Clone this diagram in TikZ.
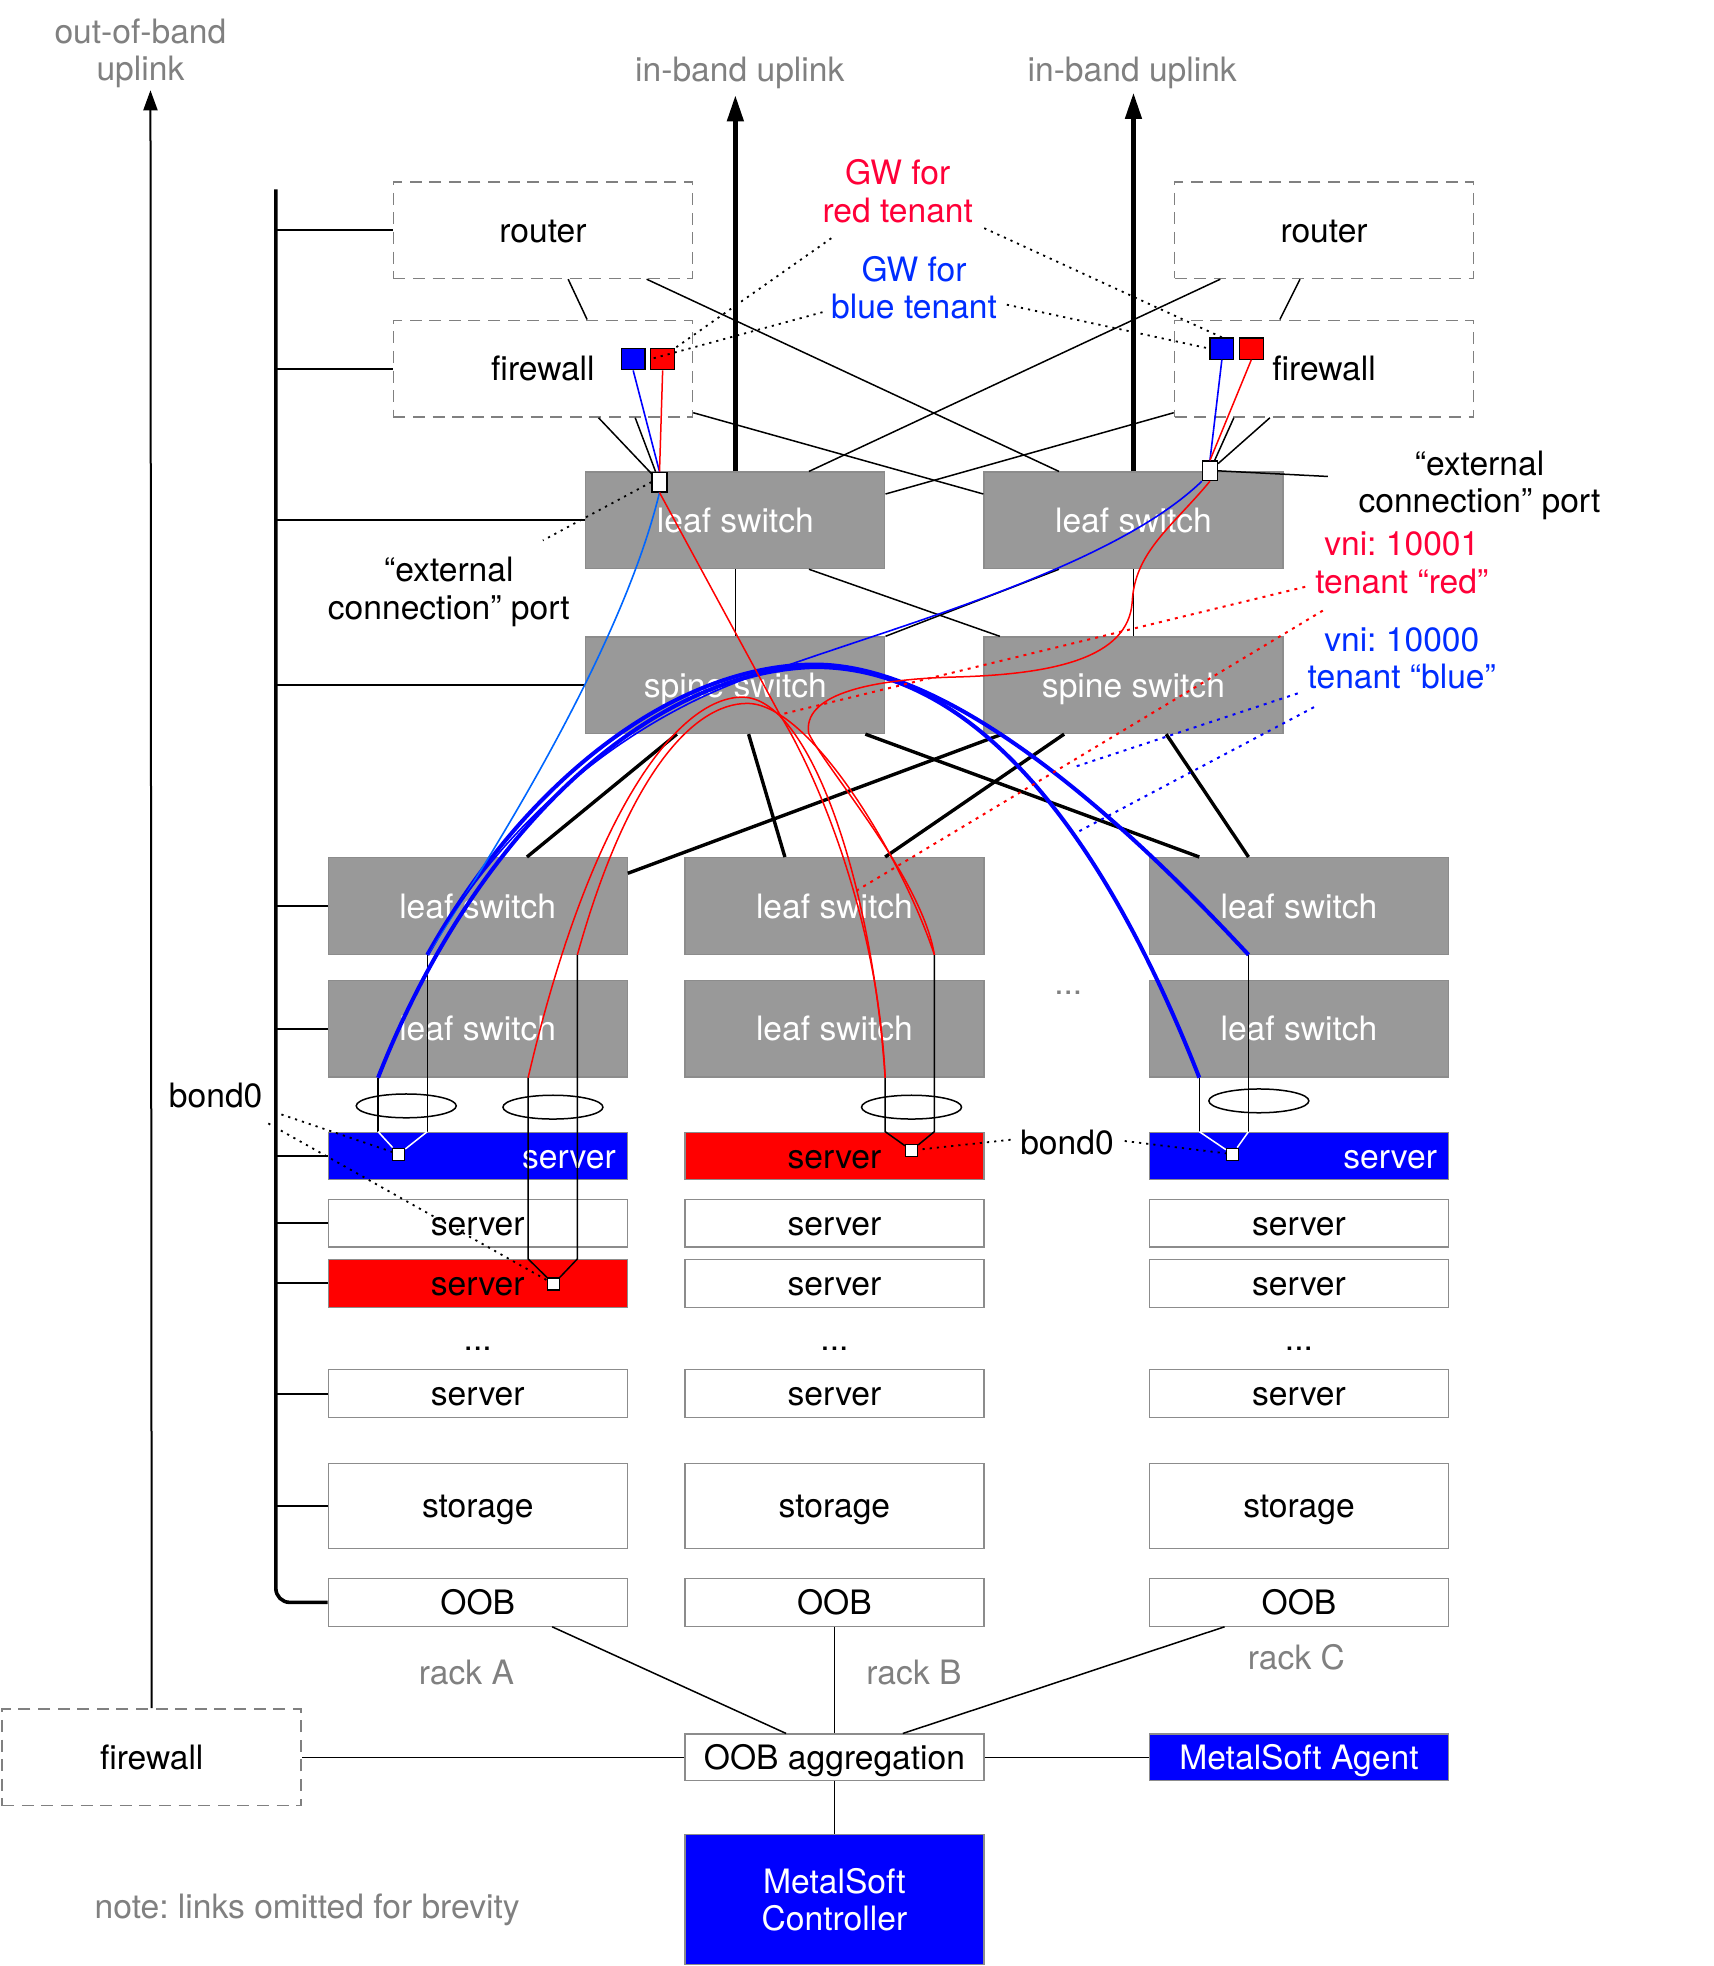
\documentclass[tikz,border=0pt]{standalone}
\usepackage{fontspec}
\setmainfont{TeX Gyre Heros}
\usepackage{tikz}
\usetikzlibrary{positioning, calc, arrows.meta, shapes.geometric}
\frenchspacing
\definecolor{switchgray}{RGB}{153,153,153}
\definecolor{edgegray}{RGB}{140,140,140}
\definecolor{notegray}{RGB}{128,128,128}
\definecolor{tenantred}{RGB}{255,0,56}
\definecolor{tenantblue}{RGB}{0,45,255}
\definecolor{fillred}{RGB}{255,0,0}
\definecolor{fillblue}{RGB}{0,0,255}
\definecolor{extblue}{RGB}{0,102,255}
\tikzset{% use tikzset not tikzstyle
	lbl/.style={font=\fontsize{16.8}{18.8}\selectfont, align=center, inner sep=0pt},
	graylbl/.style={lbl, text=notegray},
	redlbl/.style={lbl, text=tenantred},
	bluelbl/.style={lbl, text=tenantblue},
	plainbox/.style={lbl, draw=edgegray, line width=0.6pt, minimum width=149.5pt, minimum height=23.8pt,
		text height=16.1pt, text depth=4pt},
	whitebox/.style={plainbox, fill=white},
	redbox/.style={plainbox, fill=fillred},
	bluebox/.style={plainbox, fill=fillblue, text=white},
	switchbox/.style={plainbox, fill=switchgray, text=white, minimum height=48.3pt},
	dashbox/.style={plainbox, draw=gray, dash pattern=on 6pt off 3.8pt, line width=0.8pt, minimum height=48.3pt},
	storebox/.style={whitebox, minimum height=42.6pt},
	gwsq/.style={draw=black, line width=0.6pt, minimum width=11.9pt, minimum height=10.6pt, inner sep=0pt},
	extport/.style={draw=black, fill=white, line width=0.6pt, minimum width=7.5pt, minimum height=9.8pt, inner sep=0pt},
	bondport/.style={draw=black, fill=white, line width=0.6pt, minimum size=6pt, inner sep=0pt},
	bondring/.style={ellipse, draw=black, line width=0.75pt, minimum width=50pt, minimum height=11.9pt, inner sep=0pt},
	thinlink/.style={line width=0.75pt},
	busbranch/.style={line width=1.1pt},
	busline/.style={line width=1.8pt},
	spineline/.style={line width=1.7pt},
	bigarrow/.style={-{Triangle[length=13pt,width=8pt]}, line width=2.2pt},
	oobarrow/.style={-{Triangle[length=10pt,width=7pt]}, line width=1pt},
	bluethick/.style={fillblue, line width=2pt},
	bluethin/.style={fillblue, line width=0.8pt},
	extline/.style={extblue, line width=0.8pt},
	redthin/.style={fillred, line width=0.75pt},
	ptrline/.style={dash pattern=on 1.1pt off 2.5pt, line width=0.9pt},
	redptr/.style={fillred, dash pattern=on 1.5pt off 2.6pt, line width=1pt},
	blueptr/.style={fillblue, dash pattern=on 1.5pt off 2.6pt, line width=1pt},
}
\begin{document}
\begin{tikzpicture}[x=0.6269pt, y=-0.6269pt]
	\useasboundingbox (0,0) rectangle (1367,1568);

	% gateways and core
	\node[dashbox] (rtrL) at (433,183.5) {router};
	\node[dashbox] (fwL) at (433,294) {firewall};
	\node[dashbox] (rtrR) at (1056,183.5) {router};
	\node[dashbox] (fwR) at (1056,294) {firewall};
	\node[switchbox] (lfL) at (586.5,415) {leaf switch};
	\node[switchbox] (lfR) at (904,415) {leaf switch};
	\node[switchbox] (spL) at (586.5,546.5) {spine switch};
	\node[switchbox] (spR) at (904,546.5) {spine switch};

	% rack A
	\node[switchbox] (lfA1) at (381,722.5) {leaf switch};
	\node[switchbox] (lfA2) at (381,820.5) {leaf switch};
	\node[bluebox, text width=138pt, align=right] (srvA1) at (381,922) {server};
	\node[whitebox] (srvA2) at (381,975.5) {server};
	\node[redbox] (srvA3) at (381,1023.5) {server};
	\node[lbl] (dotsA) at (381,1076) {...};
	\node[whitebox] (srvA4) at (381,1111.5) {server};
	\node[storebox] (stoA) at (381,1201) {storage};
	\node[whitebox] (oobA) at (381,1278) {OOB};
	\node[graylbl] (rackA) at (372,1334) {rack A};

	% rack B
	\node[switchbox] (lfB1) at (665.5,722.5) {leaf switch};
	\node[switchbox] (lfB2) at (665.5,820.5) {leaf switch};
	\node[redbox] (srvB1) at (665.5,922) {server};
	\node[whitebox] (srvB2) at (665.5,975.5) {server};
	\node[whitebox] (srvB3) at (665.5,1023.5) {server};
	\node[lbl] (dotsB) at (665.5,1076) {...};
	\node[whitebox] (srvB4) at (665.5,1111.5) {server};
	\node[storebox] (stoB) at (665.5,1201) {storage};
	\node[whitebox] (oobB) at (665.5,1278) {OOB};
	\node[graylbl] (rackB) at (729,1334) {rack B};

	% rack C
	\node[switchbox] (lfC1) at (1036,722.5) {leaf switch};
	\node[switchbox] (lfC2) at (1036,820.5) {leaf switch};
	\node[bluebox, text width=138pt, align=right] (srvC1) at (1036,922) {server};
	\node[whitebox] (srvC2) at (1036,975.5) {server};
	\node[whitebox] (srvC3) at (1036,1023.5) {server};
	\node[lbl] (dotsC) at (1036,1076) {...};
	\node[whitebox] (srvC4) at (1036,1111.5) {server};
	\node[storebox] (stoC) at (1036,1201) {storage};
	\node[whitebox] (oobC) at (1036,1278) {OOB};
	\node[graylbl] (rackC) at (1034,1322) {rack C};
	\node[graylbl] (dotsM) at (852,792) {...};

	% out-of-band part
	\node[dashbox] (fwB) at (121,1401.5) {firewall};
	\node[whitebox, minimum height=23.2pt] (oobAgg) at (665.5,1401.5) {OOB aggregation};
	\node[bluebox, minimum height=23.2pt] (agent) at (1036,1401.5) {MetalSoft Agent};
	\node[bluebox, minimum height=65.2pt, text height={}, text depth={}] (ctrl) at (665.5,1515) {MetalSoft\\Controller};
	\node[graylbl] (note) at (245,1523) {note: links omitted for brevity};

	% labels
	\node[graylbl] (oobup) at (112,42.5) {out-of-band\\uplink};
	\node[graylbl] (ibupL) at (590,58.5) {in-band uplink};
	\node[graylbl] (ibupR) at (903,58.5) {in-band uplink};
	\node[redlbl] (gwred) at (716,152.5) {GW for\\red tenant};
	\node[bluelbl] (gwblue) at (729,229.5) {GW for\\blue tenant};
	\node[lbl] (extLtxt) at (358,472) {“external\\connection” port};
	\node[lbl] (extRtxt) at (1180,387) {“external\\connection” port};
	\node[redlbl] (vnired) at (1118,449) {vni: 10001\\tenant “red”};
	\node[bluelbl] (vniblue) at (1118,525) {vni: 10000\\tenant “blue”};
	\node[lbl] (bondL) at (172,874) {bond0};
	\node[lbl] (bondM) at (851,911) {bond0};

	% ports
	\node[gwsq, fill=fillblue] (gwbL) at (505,286.5) {};
	\node[gwsq, fill=fillred] (gwrL) at (528.5,286.5) {};
	\node[gwsq, fill=fillblue] (gwbR) at (974.5,278) {};
	\node[gwsq, fill=fillred] (gwrR) at (998,278) {};
	\node[extport] (ptL) at (526,384.5) {};
	\node[extport] (ptR) at (965,375.5) {};
	\node[bondport] (bpA1) at (318,920.5) {};
	\node[bondport] (bpA3) at (441.5,1024) {};
	\node[bondport] (bpB) at (727,917.5) {};
	\node[bondport] (bpC) at (983,920.5) {};

	\coordinate (bustop) at (220,151);
	\coordinate (oobtip) at (120,72);
	\coordinate (ibtipL) at (586.5,76);
	\coordinate (ibtipR) at (904,74);
	\coordinate (extRend) at (1059,380);
	\coordinate (extLend) at (433,431);
	\coordinate (gwredL) at (663,190);
	\coordinate (gwredR) at (785,182);
	\coordinate (gwblueL) at (656,249);
	\coordinate (gwblueR) at (803,243);
	\coordinate (bondLa) at (219,887);
	\coordinate (bondLb) at (214,896);
	\coordinate (bondMa) at (806,909);
	\coordinate (bondMb) at (897,910);
	\coordinate (vniredA) at (1041,468);
	\coordinate (vniredB) at (1055,487);
	\coordinate (vniblueA) at (1035,553);
	\coordinate (vniblueB) at (1048,564);
	\coordinate (redtipA) at (622,570);
	\coordinate (redtipB) at (682,711);
	\coordinate (bluetipA) at (856,612);
	\coordinate (bluetipB) at (853,667);

	\coordinate (a1l) at ($(lfA2.south west)!.168!(lfA2.south east)$);
	\coordinate (a1r) at ($(lfA1.south west)!.332!(lfA1.south east)$);
	\coordinate (a3l) at ($(lfA2.south west)!.668!(lfA2.south east)$);
	\coordinate (a3r) at ($(lfA1.south west)!.832!(lfA1.south east)$);
	\coordinate (bl) at ($(lfB2.south west)!.669!(lfB2.south east)$);
	\coordinate (br) at ($(lfB1.south west)!.833!(lfB1.south east)$);
	\coordinate (cl) at ($(lfC2.south west)!.168!(lfC2.south east)$);
	\coordinate (cr) at ($(lfC1.south west)!.332!(lfC1.south east)$);

	% out-of-band bus
	\draw[busline, rounded corners=7pt] (bustop) -- (bustop |- oobA.west) -- (oobA.west);
	\foreach \nd in {rtrL, fwL, lfL, spL, lfA1, lfA2, srvA1, srvA2, srvA3, srvA4, stoA}
		\draw[busbranch] (bustop |- \nd.west) -- (\nd.west);
	\draw[oobarrow] (fwB.north) -- (oobtip);

	% uplinks
	\draw[bigarrow] (lfL.north) -- (ibtipL);
	\draw[bigarrow] (lfR.north) -- (ibtipR);

	% router / firewall / leaf links
	\draw[thinlink] ($(rtrL.south west)!.584!(rtrL.south east)$) -- ($(fwL.north west)!.647!(fwL.north east)$);
	\draw[thinlink] ($(rtrL.south west)!.845!(rtrL.south east)$) -- ($(lfR.north west)!.252!(lfR.north east)$);
	\draw[thinlink] ($(fwL.south east)+(0,-4)$) -- ($(lfR.north west)+(0,18)$);
	\draw[thinlink] ($(fwL.south west)!.685!(fwL.south east)$) -- (ptL);
	\draw[thinlink] ($(fwL.south west)!.807!(fwL.south east)$) -- (ptL);
	\draw[thinlink] ($(rtrR.south west)!.155!(rtrR.south east)$) -- ($(lfL.north west)!.745!(lfL.north east)$);
	\draw[thinlink] ($(rtrR.south west)!.42!(rtrR.south east)$) -- ($(fwR.north west)!.353!(fwR.north east)$);
	\draw[thinlink] ($(fwR.south west)+(0,-4)$) -- ($(lfL.north east)+(0,18)$);
	\draw[thinlink] ($(fwR.south west)!.2!(fwR.south east)$) -- (ptR);
	\draw[thinlink] ($(fwR.south west)!.32!(fwR.south east)$) -- (ptR);
	\draw[thinlink] (ptR.east) -- (extRend);

	% leaf / spine links
	\draw[thinlink] (lfL) -- (spL);
	\draw[thinlink] (lfR) -- (spR);
	\draw[thinlink] ($(lfL.south west)!.745!(lfL.south east)$) -- ($(spR.north west)!.055!(spR.north east)$);
	\draw[thinlink] ($(lfR.south west)!.252!(lfR.south east)$) -- (spL.north east);

	\draw[spineline] ($(spL.south west)!.305!(spL.south east)$) -- ($(lfA1.north west)!.664!(lfA1.north east)$);
	\draw[spineline] ($(spL.south west)!.544!(spL.south east)$) -- ($(lfB1.north west)!.335!(lfB1.north east)$);
	\draw[spineline] ($(spL.south west)!.933!(spL.south east)$) -- ($(lfC1.north west)!.168!(lfC1.north east)$);
	\draw[spineline] ($(spR.south west)!.063!(spR.south east)$) -- ($(lfA1.north east)+(0,13)$);
	\draw[spineline] ($(spR.south west)!.269!(spR.south east)$) -- ($(lfB1.north west)!.669!(lfB1.north east)$);
	\draw[spineline] ($(spR.south west)!.609!(spR.south east)$) -- ($(lfC1.north west)!.332!(lfC1.north east)$);

	% oob links
	\draw[thinlink] ($(oobA.south west)!.748!(oobA.south east)$) -- ($(oobAgg.north west)!.339!(oobAgg.north east)$);
	\draw[thinlink] (oobB) -- (oobAgg);
	\draw[thinlink] ($(oobC.south west)!.252!(oobC.south east)$) -- ($(oobAgg.north west)!.728!(oobAgg.north east)$);
	\draw[thinlink] (fwB) -- (oobAgg);
	\draw[thinlink] (oobAgg) -- (agent);
	\draw[thinlink] (oobAgg) -- (ctrl);

	% bonds
	\draw[thinlink] (a1l) -- (a1l |- srvA1.north);
	\draw[thinlink] (a1r) -- (a1r |- srvA1.north);
	\draw[thinlink, white] (a1l |- srvA1.north) -- (bpA1) -- (a1r |- srvA1.north);
	\draw[thinlink] (a3l) -- (a3l |- srvA3.north) -- (bpA3);
	\draw[thinlink] (a3r) -- (a3r |- srvA3.north) -- (bpA3);
	\draw[thinlink] (bl) -- (bl |- srvB1.north) -- (bpB);
	\draw[thinlink] (br) -- (br |- srvB1.north) -- (bpB);
	\draw[thinlink] (cl) -- (cl |- srvC1.north);
	\draw[thinlink] (cr) -- (cr |- srvC1.north);
	\draw[thinlink, white] (cl |- srvC1.north) -- (bpC) -- (cr |- srvC1.north);
	\node[bondring] (ringA1) at (324,882) {};
	\node[bondring] (ringA3) at (441,883) {};
	\node[bondring] (ringB) at (727,883) {};
	\node[bondring] (ringC) at (1004,878) {};

	% tenant paths
	\draw[bluethin] (gwbL.south) -- (ptL.north);
	\draw[redthin] (gwrL.south) -- (ptL.north);
	\draw[bluethin] (gwbR.south) -- (ptR.north);
	\draw[redthin] (gwrR.south) -- (ptR.north);

	\draw[bluethick] (a1r) .. controls (420,620) and (540,530) .. (650,530) .. controls (770,530) and (920,680) .. (cr);
	\draw[bluethick] (a1l) .. controls (380,660) and (520,535) .. (650,532) .. controls (790,532) and (890,690) .. (cl);
	\draw[extline] (ptL.south) .. controls (500,500) and (420,640) .. (a1r);
	\draw[bluethin] (ptR.south west) .. controls (890,450) and (730,495) .. (630,530) .. controls (520,560) and (410,640) .. (a1r);

	\draw[redthin] (a3l) .. controls (470,650) and (540,556) .. (592,556) .. controls (645,556) and (695,700) .. (bl);
	\draw[redthin] (a3r) .. controls (500,620) and (552,561) .. (596,561) .. controls (645,561) and (718,680) .. (br);
	\draw[redthin] (ptL.south) -- (redtipA) .. controls (650,615) and (700,730) .. (bl);
	\draw[redthin] (ptR.south) .. controls (935,420) and (905,440) .. (903,480) .. controls (900,525) and (840,538) .. (760,540)
		.. controls (690,542) and (640,555) .. (645,585) .. controls (660,615) and (735,700) .. (br);

	% pointers
	\draw[ptrline] (gwredL) -- (gwrL.north east);
	\draw[ptrline] (gwblueL) -- (gwrL.west);
	\draw[ptrline] (gwredR) -- (gwbR.north);
	\draw[ptrline] (gwblueR) -- (gwbR.west);
	\draw[ptrline] (ptL.west) -- (extLend);
	\draw[ptrline] (bondLa) -- (bpA1);
	\draw[ptrline] (bondLb) -- (bpA3);
	\draw[ptrline] (bondMa) -- (bpB);
	\draw[ptrline] (bondMb) -- (bpC);
	\draw[redptr] (vniredA) -- (redtipA);
	\draw[redptr] (vniredB) -- (redtipB);
	\draw[blueptr] (vniblueA) -- (bluetipA);
	\draw[blueptr] (vniblueB) -- (bluetipB);
\end{tikzpicture}
\end{document}
